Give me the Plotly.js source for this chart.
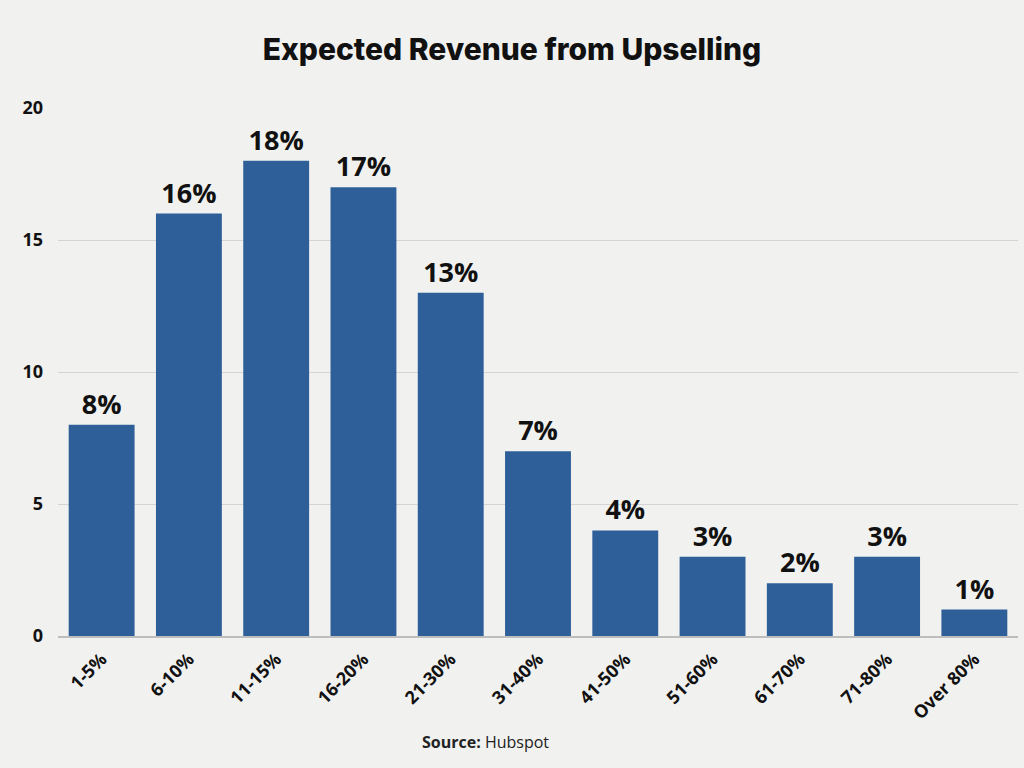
<!DOCTYPE html>
<html>
<head>
<meta charset="utf-8">
<script src="https://cdn.plot.ly/plotly-3.0.1.min.js"></script>
<style>
  body { margin: 0; background: #f1f1f0; }
  #chart { width: 1024px; height: 768px; }
</style>
</head>
<body>
<div id="chart"></div>
<script>
const categories = ["1-5%", "6-10%", "11-15%", "16-20%", "21-30%", "31-40%",
    "41-50%", "51-60%", "61-70%", "71-80%", "Over 80%"];
const shares = [8, 16, 18, 17, 13, 7, 4, 3, 2, 3, 1];
const barLabels = shares.map((v) => v + "%");
const yTicks = [0, 5, 10, 15, 20];

const trace = {
    type: "bar",
    x: categories,
    y: shares,
    text: barLabels,
    textposition: "outside",
    cliponaxis: false,
    textfont: { family: "Open Sans", size: 27, color: "#111111", weight: 700 },
    marker: { color: "#2e5f99" },
    hoverinfo: "skip",
};

const layout = {
    width: 1024,
    height: 768,
    paper_bgcolor: "#f1f1f0",
    plot_bgcolor: "rgba(0,0,0,0)",
    margin: { l: 58, r: 6, t: 108, b: 132 },
    bargap: 0.245,
    showlegend: false,
    title: {
        text: "Expected Revenue from Upselling",
        x: 0.5,
        xanchor: "center",
        y: 0.935,
        yanchor: "middle",
        font: { family: "Inter", size: 30, color: "#111111", weight: 800 },
    },
    xaxis: {
        type: "category",
        tickangle: -45,
        tickfont: { family: "Open Sans", size: 18, color: "#111111", weight: 700 },
        showline: true,
        linecolor: "#bdbdbd",
        linewidth: 1.5,
        ticks: "",
        showgrid: false,
        ticklabelstandoff: 4,
    },
    yaxis: {
        range: [0, 20],
        tickvals: yTicks,
        tickfont: { family: "Open Sans", size: 18, color: "#111111", weight: 700 },
        gridcolor: "#d4d4d4",
        gridwidth: 1,
        zeroline: false,
        ticks: "",
        ticklabelstandoff: 14,
    },
    annotations: [
        {
            text: "<b>Source:</b> Hubspot",
            xref: "paper",
            yref: "paper",
            x: 0.445,
            y: -0.2,
            xanchor: "center",
            yanchor: "middle",
            showarrow: false,
            font: { family: "Open Sans", size: 16, color: "#222222" },
        },
    ],
};

Plotly.newPlot("chart", [trace], layout, { displayModeBar: false, staticPlot: true });
</script>
</body>
</html>
